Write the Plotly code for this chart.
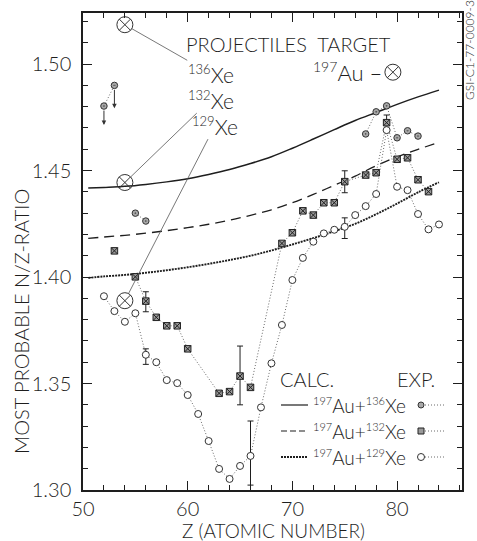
import plotly.graph_objects as go

# ---------------- data ----------------
calc_z = [50.5, 52, 54, 56, 58, 60, 62, 64, 66, 68, 70, 72, 74, 76, 78, 80, 82, 84]
calc_136 = [1.4418, 1.4421, 1.4426, 1.4435, 1.4447, 1.4462, 1.4482, 1.4505, 1.4533,
            1.4565, 1.4605, 1.4648, 1.4692, 1.4735, 1.4773, 1.4811, 1.4846, 1.4878]
calc_132 = [1.4182, 1.4188, 1.4196, 1.4206, 1.4218, 1.4232, 1.4248, 1.4267, 1.4290,
            1.4316, 1.4349, 1.4388, 1.4431, 1.4474, 1.4523, 1.4565, 1.4600, 1.4632]
calc_129 = [1.3996, 1.4003, 1.4010, 1.4020, 1.4032, 1.4046, 1.4062, 1.4080, 1.4100,
            1.4125, 1.4153, 1.4183, 1.4215, 1.4250, 1.4295, 1.4345, 1.4398, 1.4445]

# experimental 197Au + 136Xe (None = break in the dotted line)
exp136_z = [52, 53, None, 55, 56, None, 77, 78, 79, 80, 81, 82]
exp136_nz = [1.4803, 1.4900, None, 1.4300, 1.4263, None, 1.4672, 1.4776, 1.4804, 1.4654, 1.4687, 1.4662]
lim136_z = [52, 53]
lim136_from = [1.4803, 1.4900]
lim136_to = [1.4714, 1.4793]

# experimental 197Au + 132Xe
exp132_z = [53, None, 55, 56, 57, 58, 59, 60, 63, 64, 65, 66, 69, 70, 71, 72, 73, 74, 75,
            77, 78, 79, 80, 81, 82, 83]
exp132_nz = [1.4123, None, 1.4001, 1.3887, 1.3811, 1.3771, 1.3771, 1.3663, 1.3454, 1.3462,
             1.3535, 1.3482, 1.4158, 1.4208, 1.4311, 1.4291, 1.4349, 1.4349, 1.4448,
             1.4479, 1.4490, 1.4725, 1.4553, 1.4560, 1.4457, 1.4401]
err132_z = [56, 65, 75, 79]
err132_nz = [1.3887, 1.3535, 1.4448, 1.4725]
err132_up = [0.0044, 0.0141, 0.0051, 0.0036]
err132_dn = [0.0050, 0.0135, 0.0052, 0.0000]

# experimental 197Au + 129Xe
exp129_z = [52, 53, 54, 55, 56, 57, 58, 59, 60, 61, 62, 63, 64, 65, 66, 67, 68, 69, 70,
            71, 72, 73, 74, 75, 76, 77, 78, 79, 80, 81, 82, 83, 84]
exp129_nz = [1.3910, 1.3840, 1.3790, 1.3830, 1.3635, 1.3600, 1.3516, 1.3502, 1.3446,
             1.3357, 1.3230, 1.3099, 1.3052, 1.3113, 1.3160, 1.3388, 1.3595, 1.3775,
             1.3986, 1.4090, 1.4166, 1.4205, 1.4222, 1.4236, 1.4291, 1.4333, 1.4390,
             1.4690, 1.4424, 1.4408, 1.4296, 1.4224, 1.4247]
err129_z = [56, 66, 75]
err129_nz = [1.3635, 1.3160, 1.4236]
err129_up = [0.0028, 0.0164, 0.0042]
err129_dn = [0.0045, 0.0137, 0.0055]

# projectile / target N/Z markers
proj_z = [54, 54, 54]
proj_nz = [1.5185, 1.4444, 1.3889]
proj_mass = ["136", "132", "129"]
proj_label_z = [62.2, 62.2, 62.6]
proj_label_nz = [1.4955, 1.4833, 1.4711]
target_z = [79.6]
target_nz = [1.4962]

x_ticks = [50, 60, 70, 80]
y_ticks = [1.30, 1.35, 1.40, 1.45, 1.50]
y_ticktext = ["1.30", "1.35", "1.40", "1.45", "1.50"]

# ---------------- figure ----------------
FONT = "Lato, Liberation Sans, Arial, sans-serif"
W = 300
INK = "#1e1e1e"
DOT = "#6a6a6a"


def sup(t, size):
    return '<sup><span style="font-size:%dpx">%s</span></sup>' % (size, t)


fig = go.Figure()

# calculated curves
fig.add_trace(go.Scatter(x=calc_z, y=calc_136, mode="lines", line=dict(color=INK, width=1.5),
                         line_shape="spline", hoverinfo="skip"))
fig.add_trace(go.Scatter(x=calc_z, y=calc_132, mode="lines",
                         line=dict(color=INK, width=1.3, dash="10px,6px"),
                         line_shape="spline", hoverinfo="skip"))
fig.add_trace(go.Scatter(x=calc_z, y=calc_129, mode="lines",
                         line=dict(color=INK, width=1.9, dash="2px,1px"),
                         line_shape="spline", hoverinfo="skip"))

# experimental series: dotted connecting lines
for zz, vv in [(exp136_z, exp136_nz), (exp132_z, exp132_nz), (exp129_z, exp129_nz)]:
    fig.add_trace(go.Scatter(x=zz, y=vv, mode="lines", connectgaps=False,
                             line=dict(color=DOT, width=1, dash="1px,2px"), hoverinfo="skip"))

# error bars
fig.add_trace(go.Scatter(x=err132_z, y=err132_nz, mode="markers", marker=dict(size=1, color=INK),
                         error_y=dict(type="data", symmetric=False, array=err132_up,
                                      arrayminus=err132_dn, color=INK, thickness=1, width=3),
                         hoverinfo="skip"))
fig.add_trace(go.Scatter(x=err129_z, y=err129_nz, mode="markers", marker=dict(size=1, color=INK),
                         error_y=dict(type="data", symmetric=False, array=err129_up,
                                      arrayminus=err129_dn, color=INK, thickness=1, width=3),
                         hoverinfo="skip"))

# markers
fig.add_trace(go.Scatter(x=exp129_z, y=exp129_nz, mode="markers",
                         marker=dict(symbol="circle", size=7, color="white",
                                     line=dict(color="#333", width=1)), hoverinfo="skip"))
fig.add_trace(go.Scatter(x=exp132_z, y=exp132_nz, mode="markers",
                         marker=dict(symbol="square-x", size=6.5, color="#9a9a9a",
                                     line=dict(color="#222", width=1)), hoverinfo="skip"))
fig.add_trace(go.Scatter(x=exp136_z, y=exp136_nz, mode="markers",
                         marker=dict(symbol="circle-dot", size=6.5, color="#a8a8a8",
                                     line=dict(color="#333", width=1)), hoverinfo="skip"))

# projectile and target markers
fig.add_trace(go.Scatter(x=proj_z + target_z, y=proj_nz + target_nz, mode="markers",
                         marker=dict(symbol="circle-x-open", size=16, color="#333",
                                     line=dict(color="#333", width=1)), hoverinfo="skip"))

annotations = []
# upper-limit arrows
for z, a, b in zip(lim136_z, lim136_from, lim136_to):
    annotations.append(dict(x=z, y=b, ax=z, ay=a, xref="x", yref="y", axref="x", ayref="y",
                            text="", showarrow=True, arrowhead=2, arrowsize=0.9,
                            arrowwidth=1, arrowcolor="#333", startstandoff=3))
# projectile labels with leader lines
for z, v, lz, lv, m in zip(proj_z, proj_nz, proj_label_z, proj_label_nz, proj_mass):
    annotations.append(dict(x=z, y=v, ax=lz, ay=lv, xref="x", yref="y", axref="x", ayref="y",
                            text=sup(m, 13) + "Xe", showarrow=True, arrowhead=0, arrowwidth=0.8,
                            arrowcolor="#555", standoff=8, borderpad=0,
                            font=dict(family=FONT, size=21, color=INK, weight=W)))
annotations.append(dict(x=target_z[0], y=target_nz[0], xref="x", yref="y", xanchor="right",
                        yanchor="middle", xshift=-9, text=sup("197", 14) + "Au –",
                        showarrow=False, font=dict(family=FONT, size=22, color=INK, weight=W)))


def px2paper(px, py):
    return (px - 83) / 379.0, (490 - py) / 477.0


def ptext(px, py, text, size, anchor="left", angle=0):
    x, y = px2paper(px, py)
    annotations.append(dict(x=x, y=y, xref="paper", yref="paper", text=text, showarrow=False,
                            xanchor=anchor, yanchor="middle", textangle=angle, borderpad=0,
                            font=dict(family=FONT, size=size, color=INK, weight=W)))


ptext(288, 44, "PROJECTILES&nbsp;&nbsp;TARGET", 20, anchor="center")
ptext(279, 379, "CALC.", 20)
ptext(396, 379, "EXP.", 20)
for py, m in zip((405, 431, 457), proj_mass):
    ptext(312, py, sup("197", 11) + "Au+" + sup(m, 11) + "Xe", 19)
ptext(273, 530, "Z (ATOMIC NUMBER)", 19, anchor="center")
ptext(21, 322, "MOST PROBABLE N/Z-RATIO", 20, anchor="center", angle=-90)
ptext(469, 50, "GSI-C1-77-0009-3", 12, anchor="center", angle=-90)

shapes = []


def pline(x0, y0, x1, y1, dash="solid", width=1.2, color=INK):
    a0, b0 = px2paper(x0, y0)
    a1, b1 = px2paper(x1, y1)
    shapes.append(dict(type="line", xref="paper", yref="paper", x0=a0, y0=b0, x1=a1, y1=b1,
                       line=dict(color=color, width=width, dash=dash)))


# legend line samples
pline(281, 405, 308, 405, "solid", 1.2)
pline(281, 431, 308, 431, "6px,3px", 1.2)
pline(281, 457, 308, 457, "2px,1px", 1.8)
# legend marker samples with dotted tails
for py in (405, 431, 457):
    pline(425, py, 444, py, "1px,2px", 1, DOT)


def pmarker(px, py, kind, size, fill, edge):
    x, y = px2paper(px, py)
    shapes.append(dict(type=kind, xref="paper", yref="paper", xsizemode="pixel",
                       ysizemode="pixel", xanchor=x, yanchor=y, x0=-size / 2, x1=size / 2,
                       y0=-size / 2, y1=size / 2, fillcolor=fill, line=dict(color=edge, width=1)))


pmarker(421, 405, "circle", 6, "#a8a8a8", "#333")
pmarker(421, 431, "rect", 6, "#9a9a9a", "#222")
pmarker(421, 457, "circle", 7, "white", "#333")

axis_common = dict(showgrid=False, zeroline=False, showline=True, linecolor=INK, linewidth=1.5,
                   mirror="ticks", ticks="inside", tickcolor=INK, tickwidth=1.2, ticklen=9,
                   tickfont=dict(family=FONT, size=20, color=INK, weight=W))

fig.update_xaxes(range=[50, 86.2], tickvals=x_ticks, ticklabelstandoff=0,
                 minor=dict(dtick=2, tick0=50, ticks="inside", ticklen=5, tickcolor=INK,
                            tickwidth=1), **axis_common)
fig.update_yaxes(range=[1.30, 1.524], tickvals=y_ticks, ticktext=y_ticktext,
                 ticklabelstandoff=6,
                 minor=dict(dtick=0.01, tick0=1.30, ticks="inside", ticklen=5, tickcolor=INK,
                            tickwidth=1), **axis_common)

fig.update_layout(width=477, height=541, margin=dict(l=83, r=15, t=13, b=51),
                  paper_bgcolor="white", plot_bgcolor="white", showlegend=False,
                  annotations=annotations, shapes=shapes)

fig.write_html("out.html")
